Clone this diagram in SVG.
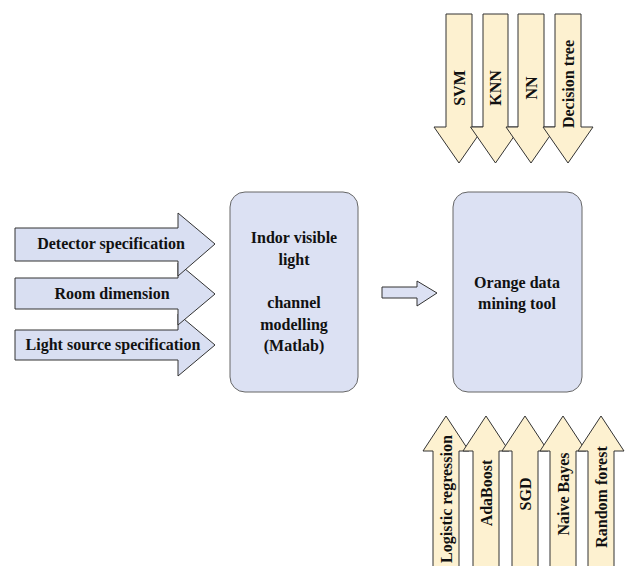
<svg xmlns="http://www.w3.org/2000/svg" width="628" height="566" viewBox="0 0 628 566">
<style>
.blue{fill:#d9dff2;stroke:#333;stroke-width:1}
.box{fill:#dce1f3;stroke:#666;stroke-width:1}
.cream{fill:#fdf1d0;stroke:#333;stroke-width:1}
text{font-family:'Liberation Serif','Times New Roman',Times,'DejaVu Serif',serif;font-weight:bold;font-size:16px;fill:#111;text-anchor:middle}
.tv{dominant-baseline:central}
</style>
<rect width="628" height="566" fill="#fff"/>
<g id="input-light-source">
<path class="blue" d="M15,330 H178 V314 L215,345 L178,376 V360 H15 Z"/>
<text x="113" y="350">Light source specification</text>
</g>
<g id="input-room">
<path class="blue" d="M15,278 H178 V263 L215,294 L178,325 V309 H15 Z"/>
<text x="112" y="299">Room dimension</text>
</g>
<g id="input-detector">
<path class="blue" d="M15,228 H178 V213 L215,244 L178,276 V261 H15 Z"/>
<text x="111" y="249">Detector specification</text>
</g>
<g id="channel-model">
<rect class="box" x="230" y="192" width="128" height="200" rx="15"/>
<text x="294" y="243">Indor visible</text>
<text x="294" y="265">light</text>
<text x="294" y="308">channel</text>
<text x="294" y="330">modelling</text>
<text x="294" y="351">(Matlab)</text>
</g>
<g id="orange-tool">
<rect class="box" x="453" y="192" width="129" height="200" rx="15"/>
<text x="517" y="288">Orange data</text>
<text x="517" y="309">mining tool</text>
</g>
<g id="connectors">
<path fill="#dce1f3" stroke="#333" stroke-width="1" d="M382,287 H417 V281 L437,293 L417,306 V298 H382 Z"/>
</g>
<g id="svm">
<path class="cream" d="M446,14 H472 V127 H484 L459,163 L434,127 H446 Z"/>
<text class="tv" transform="translate(459,88) rotate(-90)">SVM</text>
</g>
<g id="knn">
<path class="cream" d="M483,14 H508 V127 H520.5 L495.5,163 L470.5,127 H483 Z"/>
<text class="tv" transform="translate(495.5,88) rotate(-90)">KNN</text>
</g>
<g id="nn">
<path class="cream" d="M518,14 H544 V127 H556 L531,163 L506,127 H518 Z"/>
<text class="tv" transform="translate(531,88) rotate(-90)">NN</text>
</g>
<g id="decision-tree">
<path class="cream" d="M555,14 H581 V127 H593 L568,163 L543,127 H555 Z"/>
<text class="tv" transform="translate(568,84) rotate(-90)">Decision tree</text>
</g>
<g id="logistic-regression">
<path class="cream" d="M433,570 V451 H423 L446,416 L469,451 H459 V570 Z"/>
<text class="tv" transform="translate(446,499) rotate(-90)">Logistic regression</text>
</g>
<g id="adaboost">
<path class="cream" d="M473,570 V451 H463 L486,416 L509,451 H499 V570 Z"/>
<text class="tv" transform="translate(486,493) rotate(-90)">AdaBoost</text>
</g>
<g id="sgd">
<path class="cream" d="M512,570 V451 H502 L525,416 L548,451 H538 V570 Z"/>
<text class="tv" transform="translate(525,494) rotate(-90)">SGD</text>
</g>
<g id="naive-bayes">
<path class="cream" d="M550,570 V451 H540 L563,416 L586,451 H576 V570 Z"/>
<text class="tv" transform="translate(563,494) rotate(-90)">Naive Bayes</text>
</g>
<g id="random-forest">
<path class="cream" d="M588,570 V451 H578 L601,416 L624,451 H614 V570 Z"/>
<text class="tv" transform="translate(601,497) rotate(-90)">Random forest</text>
</g>
</svg>
